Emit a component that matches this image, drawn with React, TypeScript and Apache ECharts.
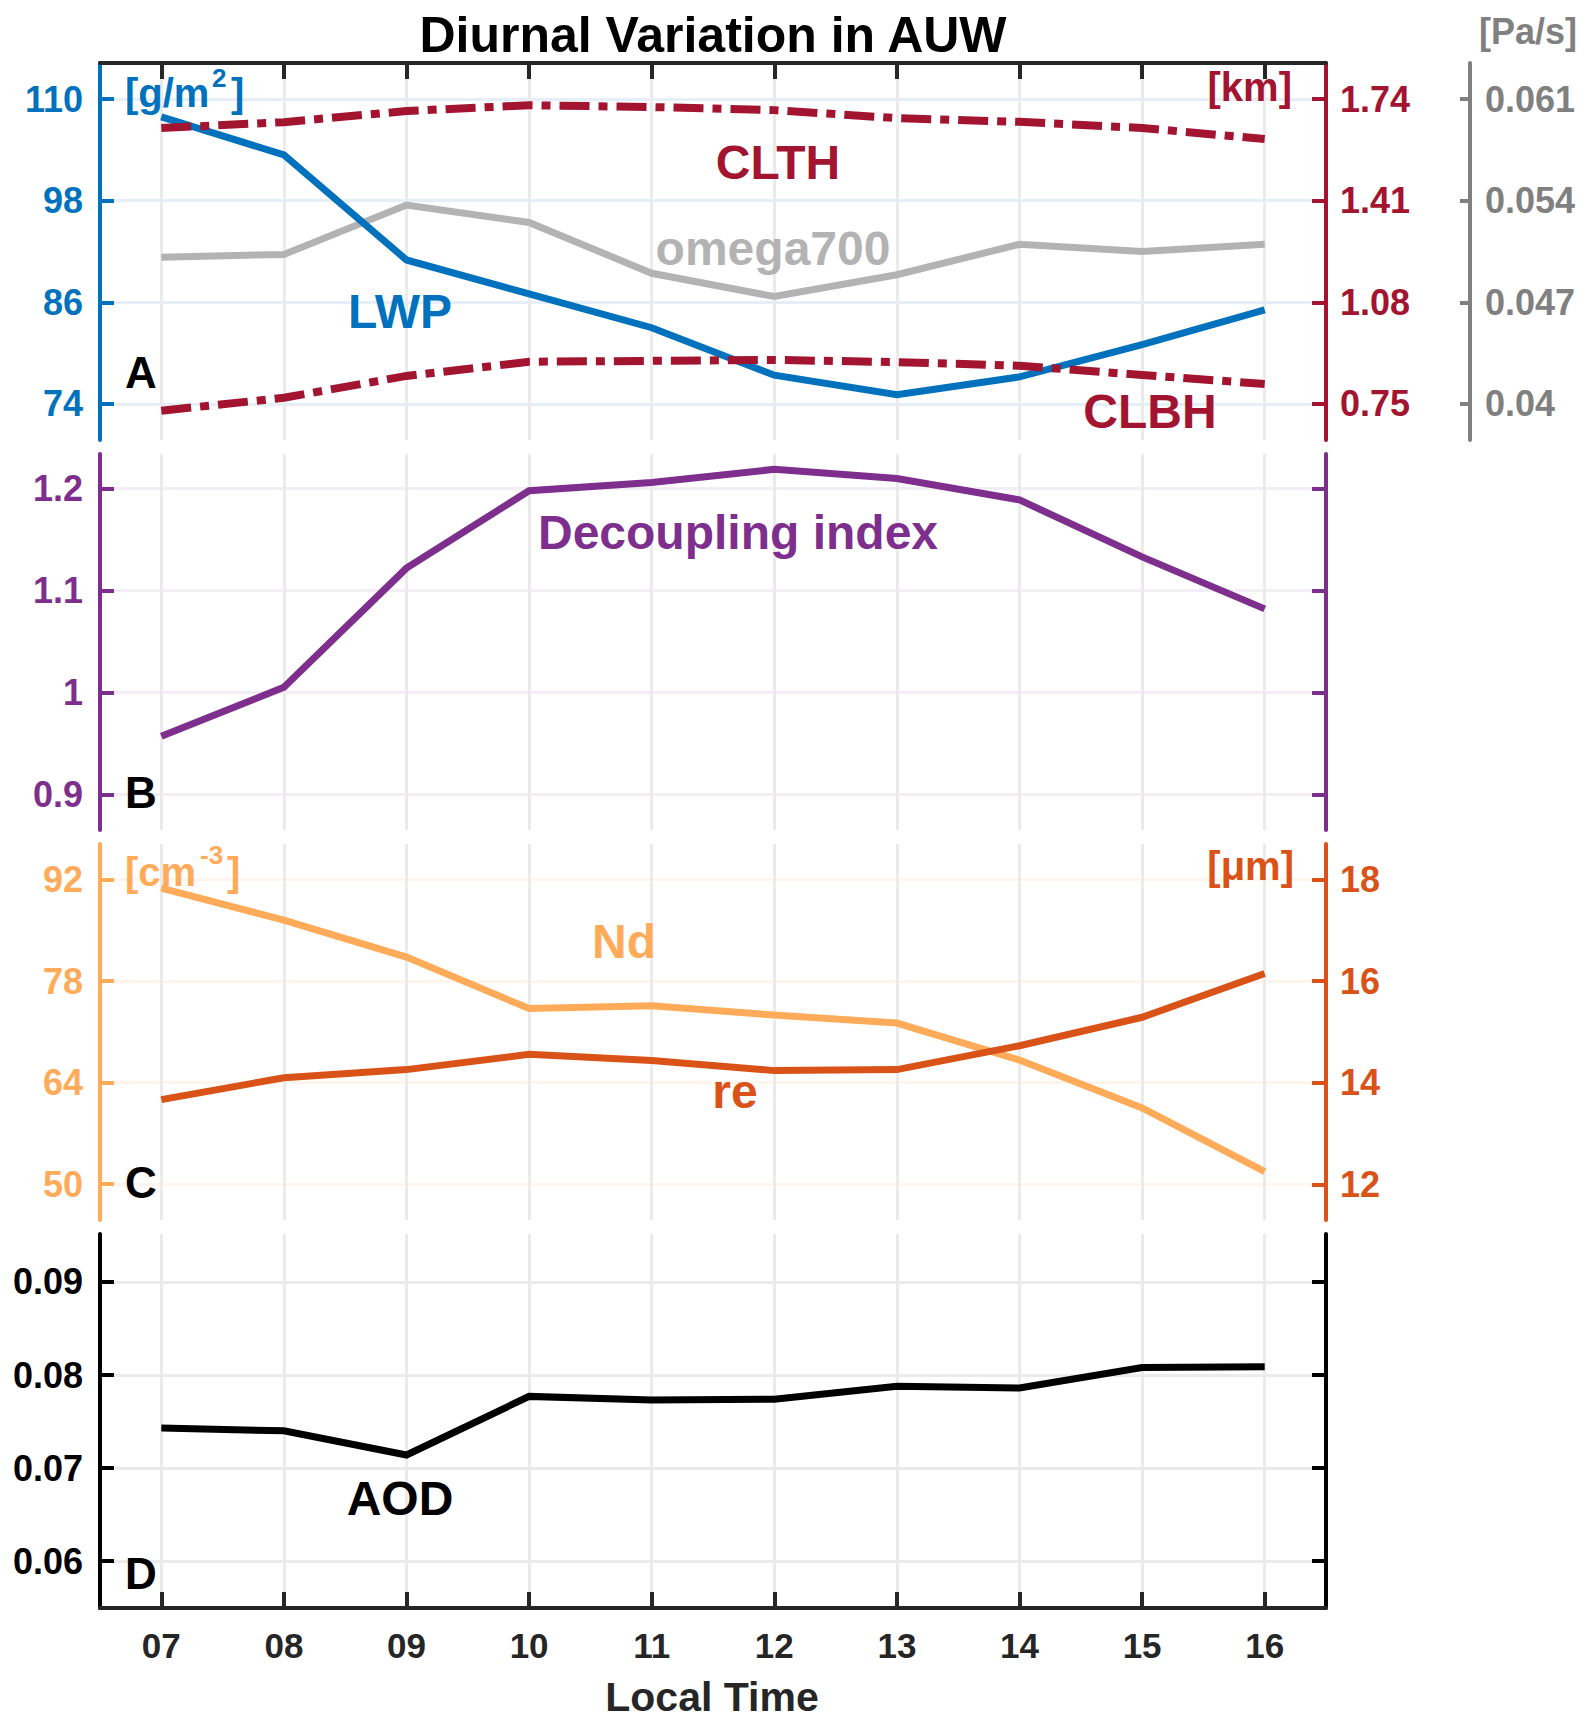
import React, { useEffect, useRef } from 'react';
import * as echarts from 'echarts';

// ---------- data ----------
const hours = [7, 8, 9, 10, 11, 12, 13, 14, 15, 16];
const lwp = [107.9, 103.4, 91.0, 87.0, 83.0, 77.4, 75.1, 77.2, 81.0, 85.1];
const clth = [1.646, 1.665, 1.701, 1.72, 1.714, 1.704, 1.678, 1.666, 1.646, 1.61];
const clbh = [0.728, 0.77, 0.841, 0.887, 0.89, 0.893, 0.886, 0.874, 0.844, 0.815];
const omega700 = [0.0501, 0.0503, 0.0537, 0.0525, 0.049, 0.0474, 0.0489, 0.051, 0.0505, 0.051];
const decoupling = [0.957, 1.005, 1.122, 1.198, 1.206, 1.219, 1.21, 1.189, 1.133, 1.082];
const nd = [90.8, 86.4, 81.3, 74.2, 74.6, 73.3, 72.2, 67.1, 60.5, 51.7];
const re = [13.67, 14.1, 14.26, 14.56, 14.44, 14.24, 14.26, 14.73, 15.29, 16.15];
const aod = [0.0743, 0.074, 0.0714, 0.0777, 0.0773, 0.0774, 0.0788, 0.0786, 0.0808, 0.0809];

const lwpTicks = [74, 86, 98, 110];
const kmTicks = [0.75, 1.08, 1.41, 1.74];
const paTicks = [0.04, 0.047, 0.054, 0.061];
const diTicks = [0.9, 1, 1.1, 1.2];
const ndTicks = [50, 64, 78, 92];
const reTicks = [12, 14, 16, 18];
const aodTicks = [0.06, 0.07, 0.08, 0.09];

// ---------- style ----------
const FONT = "'Liberation Sans', Arial, Helvetica, sans-serif";
const BLUE = '#0072BD';
const RED = '#A2142F';
const GRAY = '#808080';
const LGRAY = '#B3B3B3';
const PURPLE = '#7E2F8E';
const ND = '#FFAB59';
const RE = '#D95319';
const DARK = '#262626';

const pairs = (arr: number[]) => hours.map((h, i) => [h, arr[i]]);

const xAx = (gi: number, extra: any = {}) => ({
  type: 'value',
  gridIndex: gi,
  min: 6.5,
  max: 16.5,
  axisLine: { show: false, onZero: false },
  axisTick: { show: false, customValues: hours, inside: true, length: 16, lineStyle: { color: DARK, width: 4 } },
  axisLabel: { show: false, customValues: hours },
  splitLine: { show: true, lineStyle: { color: '#EBEBEB', width: 3 } },
  ...extra,
});

const yAx = (
  gi: number,
  min: number,
  max: number,
  ticks: number[],
  color: string,
  opts: any = {}
) => ({
  type: 'value',
  gridIndex: gi,
  min,
  max,
  position: opts.position || 'left',
  offset: opts.offset || 0,
  axisLine: { show: true, onZero: false, lineStyle: { color, width: 4 } },
  axisTick: {
    show: true,
    inside: true,
    length: opts.tickLen || 14,
    customValues: ticks,
    lineStyle: { color, width: 4 },
  },
  axisLabel: {
    show: opts.labels !== false,
    customValues: ticks,
    color: opts.labelColor || color,
    fontSize: 36,
    fontWeight: 'bold',
    fontFamily: FONT,
    margin: opts.margin || 17,
    formatter: (v: number) => String(v),
  },
  splitLine: opts.split
    ? { show: true, lineStyle: { color: opts.split, width: 3 } }
    : { show: false },
});

const T = (
  text: string,
  x: number,
  y: number,
  size: number,
  color: string,
  align: string = 'center'
) => ({
  type: 'text',
  x,
  y,
  silent: true,
  z: 100,
  style: {
    text,
    fill: color,
    fontSize: size,
    fontWeight: 'bold',
    fontFamily: FONT,
    align,
    verticalAlign: 'middle',
  },
});

const line = (
  name: string,
  arr: number[],
  xi: number,
  yi: number,
  color: string,
  type: any = 'solid',
  width = 7
) => ({
  name,
  type: 'line',
  xAxisIndex: xi,
  yAxisIndex: yi,
  data: pairs(arr),
  showSymbol: false,
  symbol: 'none',
  lineStyle: { color, width, type, cap: 'butt', join: 'miter' },
  z: 3,
});

const option: any = {
  animation: false,
  backgroundColor: '#ffffff',
  grid: [
    { left: 100, top: 63, width: 1226, height: 377 },
    { left: 100, top: 454, width: 1226, height: 376 },
    { left: 100, top: 844, width: 1226, height: 376 },
    { left: 100, top: 1234, width: 1226, height: 374 },
  ],
  xAxis: [
    xAx(0, {
      position: 'top',
      axisLine: { show: true, onZero: false, lineStyle: { color: DARK, width: 4 } },
      axisTick: { show: true, customValues: hours, inside: true, length: 16, lineStyle: { color: DARK, width: 4 } },
    }),
    xAx(1),
    xAx(2),
    xAx(3, {
      position: 'bottom',
      axisLine: { show: true, onZero: false, lineStyle: { color: DARK, width: 4 } },
      axisTick: { show: true, customValues: hours, inside: true, length: 16, lineStyle: { color: DARK, width: 4 } },
      axisLabel: {
        show: true,
        customValues: hours,
        color: DARK,
        fontSize: 35,
        fontWeight: 'bold',
        fontFamily: FONT,
        margin: 20,
        formatter: (v: number) => (v < 10 ? '0' : '') + v,
      },
    }),
  ],
  yAxis: [
    yAx(0, 69.75, 114.25, lwpTicks, BLUE, { split: '#E6EFF8' }),
    yAx(0, 0.633, 1.857, kmTicks, RED, { position: 'right', margin: 14 }),
    yAx(0, 0.03752, 0.06348, paTicks, GRAY, { position: 'right', offset: 144, margin: 15, tickLen: 10 }),
    yAx(1, 0.865, 1.234, diTicks, PURPLE, { split: '#F3EDF5' }),
    yAx(1, 0.865, 1.234, diTicks, PURPLE, { position: 'right', labels: false }),
    yAx(2, 45.04, 96.9, ndTicks, ND, { split: '#FFF5EC' }),
    yAx(2, 11.3, 18.7, reTicks, RE, { position: 'right', margin: 14 }),
    yAx(3, 0.05495, 0.09516, aodTicks, '#000000', { split: '#EBEBEB' }),
    yAx(3, 0.05495, 0.09516, aodTicks, '#000000', { position: 'right', labels: false }),
  ],
  series: [
    line('omega700', omega700, 0, 2, LGRAY),
    line('LWP', lwp, 0, 0, BLUE),
    line('CLTH', clth, 0, 1, RED, [30, 9, 9, 9], 8),
    line('CLBH', clbh, 0, 1, RED, [30, 9, 9, 9], 8),
    line('Decoupling index', decoupling, 1, 3, PURPLE),
    line('Nd', nd, 2, 5, ND),
    line('re', re, 2, 6, RE),
    line('AOD', aod, 3, 7, '#000000'),
  ],
  graphic: [
    T('Diurnal Variation in AUW', 713, 35, 50, '#000000'),
    T('CLTH', 778, 162, 48, RED),
    T('LWP', 400, 311, 48, BLUE),
    T('omega700', 773, 248, 48, LGRAY),
    T('CLBH', 1150, 411, 48, RED),
    T('Decoupling index', 738, 532, 48, PURPLE),
    T('Nd', 624, 941, 48, ND),
    T('re', 735, 1091, 48, RE),
    T('AOD', 400, 1498, 48, '#000000'),
    T('A', 125, 372, 44, '#000000', 'left'),
    T('B', 125, 792, 44, '#000000', 'left'),
    T('C', 125, 1182, 44, '#000000', 'left'),
    T('D', 125, 1573, 44, '#000000', 'left'),
    T('Local Time', 712, 1697, 41, DARK),
    T('[g/m', 125, 93, 40, BLUE, 'left'),
    T('2', 212, 78, 26, BLUE, 'left'),
    T(']', 231, 93, 40, BLUE, 'left'),
    T('[km]', 1292, 87, 40, RED, 'right'),
    T('[Pa/s]', 1479, 31, 36, GRAY, 'left'),
    T('[cm', 125, 872, 40, ND, 'left'),
    T('-3', 200, 855, 26, ND, 'left'),
    T(']', 227, 872, 40, ND, 'left'),
    T('[\u03bcm]', 1294, 866, 40, RE, 'right'),
  ],
};

export default function App() {
  const ref = useRef<HTMLDivElement>(null);
  useEffect(() => {
    if (!ref.current) return;
    const chart = echarts.init(ref.current, null, { renderer: 'svg' });
    chart.setOption(option);
    return () => chart.dispose();
  }, []);
  return (
    <div
      ref={ref}
      style={{ position: 'absolute', left: 0, top: 0, width: 1593, height: 1728, background: '#fff' }}
    />
  );
}
